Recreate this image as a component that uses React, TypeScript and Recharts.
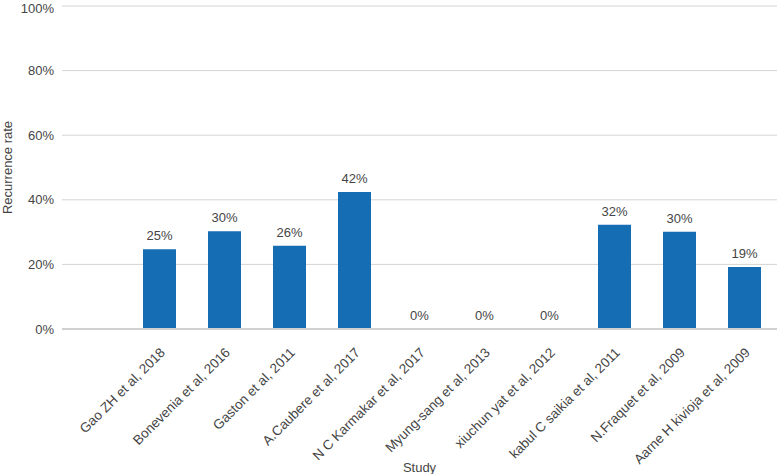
import { ComposedChart, Bar, Line, XAxis, YAxis, CartesianGrid, LabelList } from "recharts";

const studies = [
  "",
  "Gao ZH et al, 2018",
  "Bonevenia et al, 2016",
  "Gaston et al, 2011",
  "A.Caubere et al, 2017",
  "N C Karmakar et al, 2017",
  "Myung-sang et al, 2013",
  "xiuchun yat et al, 2012",
  "kabul C saikia et al, 2011",
  "N.Fraquet et al, 2009",
  "Aarne H kivioja et al, 2009",
];
const rates: (number | null)[] = [null, 0.247, 0.303, 0.258, 0.424, 0, 0, 0, 0.323, 0.301, 0.192];
const yTicks = [0, 0.2, 0.4, 0.6, 0.8, 1];

const data = studies.map((s, i) => ({ study: s, rate: rates[i] }));

const FONT = "'Liberation Sans', Arial, sans-serif";
const TEXT = "#454545";

const pct = (v: number) => `${Math.round(v * 100)}%`;

function StudyTick(props: any) {
  const { x, y, payload } = props;
  return (
    <g transform={`translate(${x + 3},${y + 13})`}>
      <text
        transform="rotate(-45)"
        textAnchor="end"
        dy="0.35em"
        fontSize={13.5}
        fontFamily={FONT}
        fill={TEXT}
      >
        {payload.value}
      </text>
    </g>
  );
}

export default function App() {
  return (
    <div style={{ width: 778, height: 474, background: "#fff" }}>
      <style>{"body{margin:0}"}</style>
      <ComposedChart
        width={778}
        height={474}
        data={data}
        margin={{ top: 6, right: 1, left: 0, bottom: 0 }}
        barCategoryGap={0}
      >
        <CartesianGrid vertical={false} stroke="#d4d4d4" />
        <XAxis
          dataKey="study"
          height={145}
          interval={0}
          tickLine={false}
          axisLine={{ stroke: "#d0d0d0", strokeWidth: 2 }}
          tick={<StudyTick />}
          label={{
            value: "Study",
            position: "insideBottom",
            offset: 2,
            style: { fontSize: 13, fontFamily: FONT, fill: TEXT },
          }}
        />
        <YAxis
          width={62}
          domain={[0, 1]}
          ticks={yTicks}
          tickFormatter={pct}
          tickLine={false}
          axisLine={false}
          tick={{ fontSize: 13, fontFamily: FONT, fill: TEXT }}
          label={{
            value: "Recurrence rate",
            angle: -90,
            position: "insideLeft",
            offset: 7,
            style: { fontSize: 13, fontFamily: FONT, fill: TEXT, textAnchor: "middle" },
          }}
        />
        <Bar dataKey="rate" fill="#156db3" barSize={33} isAnimationActive={false} />
        <Line
          dataKey="rate"
          stroke="none"
          dot={false}
          activeDot={false}
          isAnimationActive={false}
        >
          <LabelList
            dataKey="rate"
            position="top"
            offset={9}
            formatter={(v: any) => (v == null ? "" : pct(v))}
            style={{ fontSize: 13, fontFamily: FONT, fill: TEXT }}
          />
        </Line>
      </ComposedChart>
    </div>
  );
}
